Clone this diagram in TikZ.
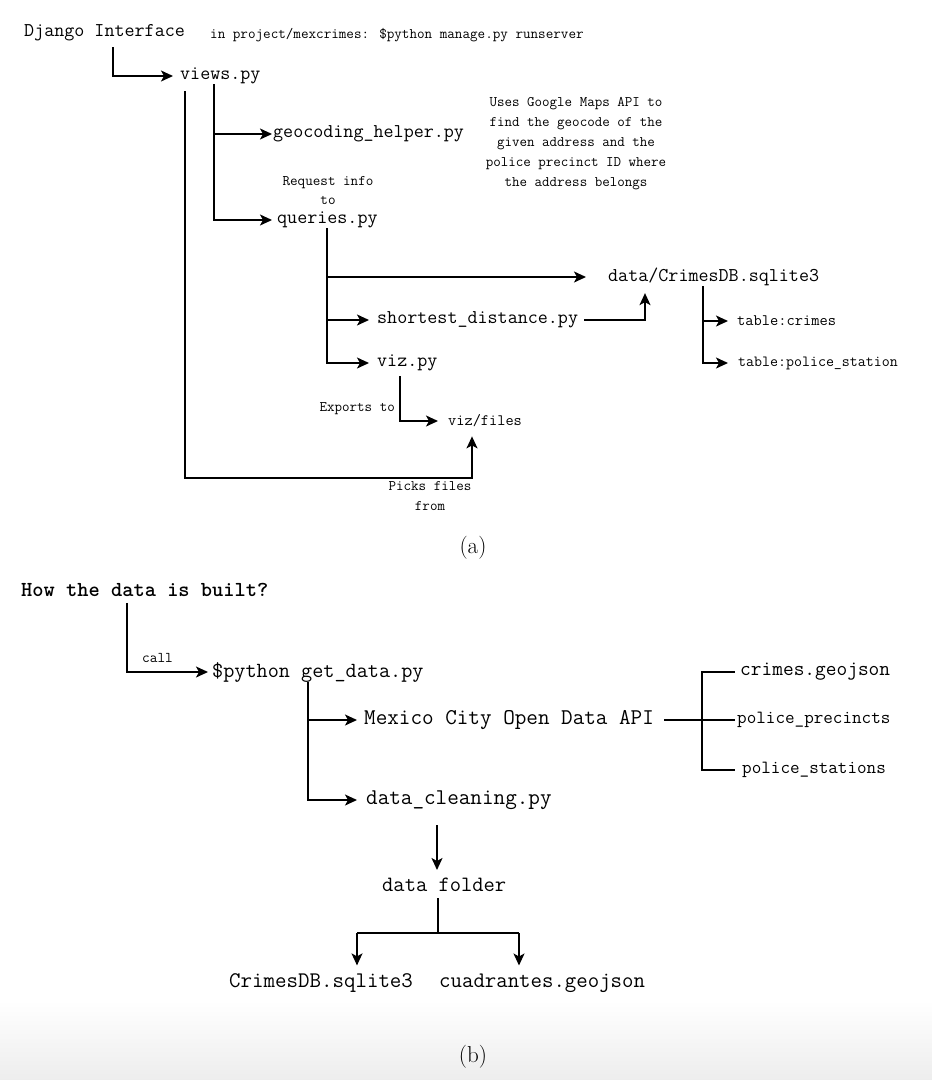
\documentclass[tikz,border=0pt]{standalone}
\usepackage{fontspec}
\usetikzlibrary{arrows.meta}
\newcommand\codesize[2]{\fontsize{#1}{#2}\selectfont}

\tikzset{
  code/.style={font=\ttfamily\codesize{#1}{#1}, inner sep=0pt, anchor=west},
  note/.style={font=\ttfamily\codesize{#1}{20}, inner sep=0pt, align=center},
  arr/.style={line width=1.5pt, -{Stealth[length=12pt,width=11pt,inset=3pt]}},
  wire/.style={line width=1.5pt},
}

\begin{document}
\begin{tikzpicture}[x=1pt,y=1pt,yscale=-1,xscale=1]
\useasboundingbox (0,0) rectangle (932,1080);
%bottom band
\shade[top color=white,bottom color=black!7] (0,1000) rectangle (932,1080);

%%%%% (a) Django interface
%Text Nodes
\node[code=19.5] (django) at (24,33) {Django Interface};
\node[code=14.7] (runcmd) at (210,35) {in project/mexcrimes: \$python manage.py runserver};
\node[code=19.5] (views) at (180,76) {views.py};
\node[code=19.5] (geocoding) at (273,134) {geocoding\_helper.py};
\node[code=19.5] (queries) at (277,220) {queries.py};
\node[note=14.7,font=\ttfamily\codesize{14.7}{19}] (reqinfo) at (328,191) {Request info\\to};
\node[note=14.6] (gmaps) at (576,144) {Uses Google Maps API to\\find the geocode of the\\given address and the\\police precinct ID where\\the address belongs};
\node[code=19.5] (crimesdb) at (608,277) {data/CrimesDB.sqlite3};
\node[code=19.5] (shortest) at (377,320) {shortest\_distance.py};
\node[code=19.5] (viz) at (377,363) {viz.py};
\node[code=15.9] (vizfiles) at (448,421) {viz/files};
\node[code=14.6,anchor=east] (exports) at (395,409) {Exports to};
\node[note=14.6] (picks) at (430,496) {Picks files\\from};
\node[code=16] (tcrimes) at (737,321) {table:crimes};
\node[code=15.5] (tpolice) at (738,363) {table:police\_station};
\node[font=\codesize{23}{23}] (capa) at (473,548) {(a)};

%Connectors
\coordinate (djdown) at (113,47);
\coordinate (pickturn) at (472,478);
\draw[arr,shorten >=7pt] (djdown) |- (views.west);
\draw[arr,shorten <=7pt,shorten >=9pt] ([xshift=5pt]views.south west) |- (pickturn) -- (vizfiles.south -| pickturn);
\draw[arr,shorten <=7pt,shorten >=1pt] ([xshift=34pt]views.south west) |- (geocoding.west);
\draw[arr,shorten >=5pt] ([xshift=34pt]views.south west) |- (queries.west);
\draw[arr,shorten <=6pt,shorten >=22pt] ([xshift=50pt]queries.south west) |- (crimesdb.west);
\draw[arr,shorten >=8pt] ([xshift=50pt]queries.south west) |- (shortest.west);
\draw[arr,shorten >=8pt] ([xshift=50pt]queries.south west) |- (viz.west);
\draw[arr,shorten <=6pt,shorten >=7pt] (shortest.east) -| ([xshift=37pt]crimesdb.south west);
\draw[arr,shorten <=6pt,shorten >=9pt] ([xshift=95pt]crimesdb.south west) |- (tcrimes.west);
\draw[arr,shorten >=10pt] ([xshift=95pt]crimesdb.south west) |- (tpolice.west);
\draw[arr,shorten <=5pt,shorten >=10pt] ([xshift=23pt]viz.south west) |- (vizfiles.west);

%%%%% (b) How the data is built
%Text Nodes
\node[code=21.4,font=\ttfamily\bfseries\codesize{21.4}{21.4}] (howbuilt) at (21,590) {How the data is built?};
\node[code=14.9] (call) at (142,658) {call};
\node[code=21.6] (getdata) at (212,672) {\$python get\_data.py};
\node[code=22.5] (api) at (364,720) {Mexico City Open Data API};
\node[code=22.5] (cleaning) at (366,800) {data\_cleaning.py};
\node[code=20.8] (gjcrimes) at (740,672) {crimes.geojson};
\node[code=18.6] (precincts) at (737,720) {police\_precincts};
\node[code=18.6] (stations) at (742,770) {police\_stations};
\node[code=21.9] (folder) at (382,885) {data folder};
\node[code=22.3] (sqlite) at (229,983) {CrimesDB.sqlite3};
\node[code=22.2] (cuadrantes) at (439,983) {cuadrantes.geojson};
\node[font=\codesize{23}{23}] (capb) at (473,1057) {(b)};

%Connectors
\coordinate (apifork) at (702,720);
\coordinate (cleandown) at (437,825);
\coordinate (foldfork) at (438,933);
\coordinate (forkL) at (357,933);
\coordinate (forkR) at (519,933);
\draw[arr,shorten <=6pt,shorten >=4pt] ([xshift=106pt]howbuilt.south west) |- (getdata.west);
\draw[arr,shorten <=8pt,shorten >=7pt] ([xshift=96pt]getdata.south west) |- (api.west);
\draw[arr,shorten >=9pt] ([xshift=96pt]getdata.south west) |- (cleaning.west);
\draw[wire,shorten <=10pt] (api.east) -- (apifork);
\draw[wire,shorten >=5pt] (apifork) |- (gjcrimes.west);
\draw[wire,shorten >=2pt] (apifork) -- (precincts.west);
\draw[wire,shorten >=7pt] (apifork) |- (stations.west);
\draw[arr,shorten >=8pt] (cleandown) -- (cleandown |- folder.north);
\draw[wire,shorten <=6pt] (folder.south -| foldfork) -- (foldfork);
\draw[wire] (forkL) -- (forkR);
\draw[arr,shorten >=8pt] (forkL) -- (forkL |- sqlite.north);
\draw[arr,shorten >=8pt] (forkR) -- (forkR |- cuadrantes.north);

\end{tikzpicture}
\end{document}
